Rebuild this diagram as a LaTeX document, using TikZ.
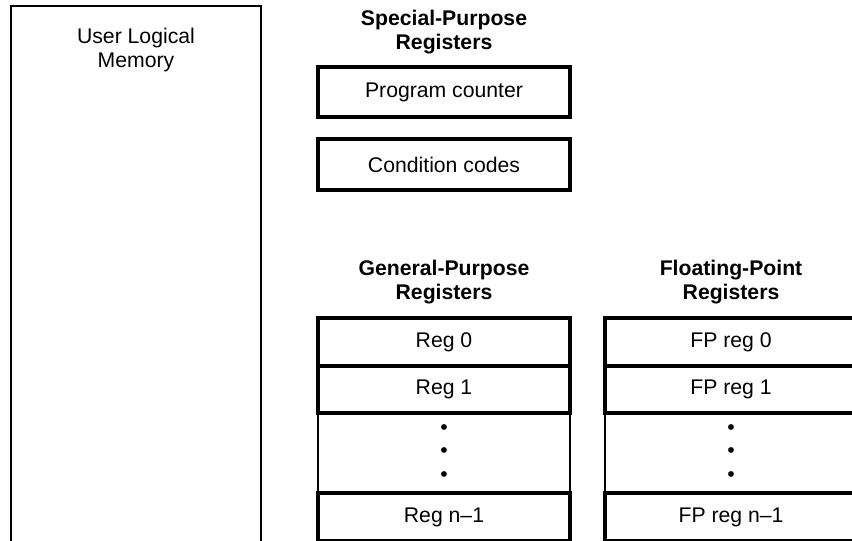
\documentclass[tikz,border=0pt]{standalone}
\usepackage{fontspec}
\setmainfont{Liberation Sans}
\usetikzlibrary{positioning}

\begin{document}
\begin{tikzpicture}[
x=0.5pt,
y=-0.5pt,
font=\fontsize{10.6}{12}\selectfont,
reg/.style={
draw,
line width=2pt,
outer sep=0pt,
inner sep=0pt,
minimum width=126pt,
minimum height=24pt
},
gap/.style={
outer sep=0pt,
inner sep=0pt,
minimum width=126pt,
minimum height=40pt,
align=center,
font=\fontsize{10.6}{11.75}\selectfont
},
title/.style={
align=center,
font=\fontsize{10.6}{12}\selectfont\bfseries
},
thinline/.style={
line width=0.8pt
}
]

\useasboundingbox (0,0) rectangle (852,541);
\clip (0,0) rectangle (852,541);


% Memory
\node[draw, thinline, outer sep=0pt, anchor=north west,
minimum width=125pt, minimum height=300pt] (mem) at (11,6) {};

\node[align=center] (memtext) at (136,50)
{
User Logical\\
Memory
};


% Special-purpose registers
\node[title] (sptitle) at (444,32)
{
Special-Purpose\\
Registers
};

\node[reg, minimum height=25pt] (pc) at (444,92) {Program counter};

\node[reg, minimum height=25.5pt, below=11pt of pc] (cc) {Condition codes};


% General-purpose registers
\node[title] (gptitle) at (444,282)
{
General-Purpose\\
Registers
};

\node[reg] (gp0) at (444,342) {Reg 0};
\node[reg, minimum height=23.5pt, below=0pt of gp0] (gp1) {Reg 1};
\node[gap, below=0pt of gp1] (gpdots) {\textbullet\\\textbullet\\\textbullet};
\node[reg, below=0pt of gpdots] (gpn) {};
\node (gpnlabel) at ([yshift=-12pt]gpn.north) {Reg n--1};


% Floating-point registers
\node[title] (fptitle) at (731,282)
{
Floating-Point\\
Registers
};

\node[reg] (fp0) at (731,342) {FP reg 0};
\node[reg, minimum height=23.5pt, below=0pt of fp0] (fp1) {FP reg 1};
\node[gap, below=0pt of fp1] (fpdots) {\textbullet\\\textbullet\\\textbullet};
\node[reg, below=0pt of fpdots] (fpn) {};
\node (fpnlabel) at ([yshift=-12pt]fpn.north) {FP reg n--1};


% sides of the gaps
\draw[thinline] (gpdots.north west) -- (gpdots.south west);
\draw[thinline] (gpdots.north east) -- (gpdots.south east);
\draw[thinline] (fpdots.north west) -- (fpdots.south west);
\draw[thinline] (fpdots.north east) -- (fpdots.south east);


\end{tikzpicture}
\end{document}
